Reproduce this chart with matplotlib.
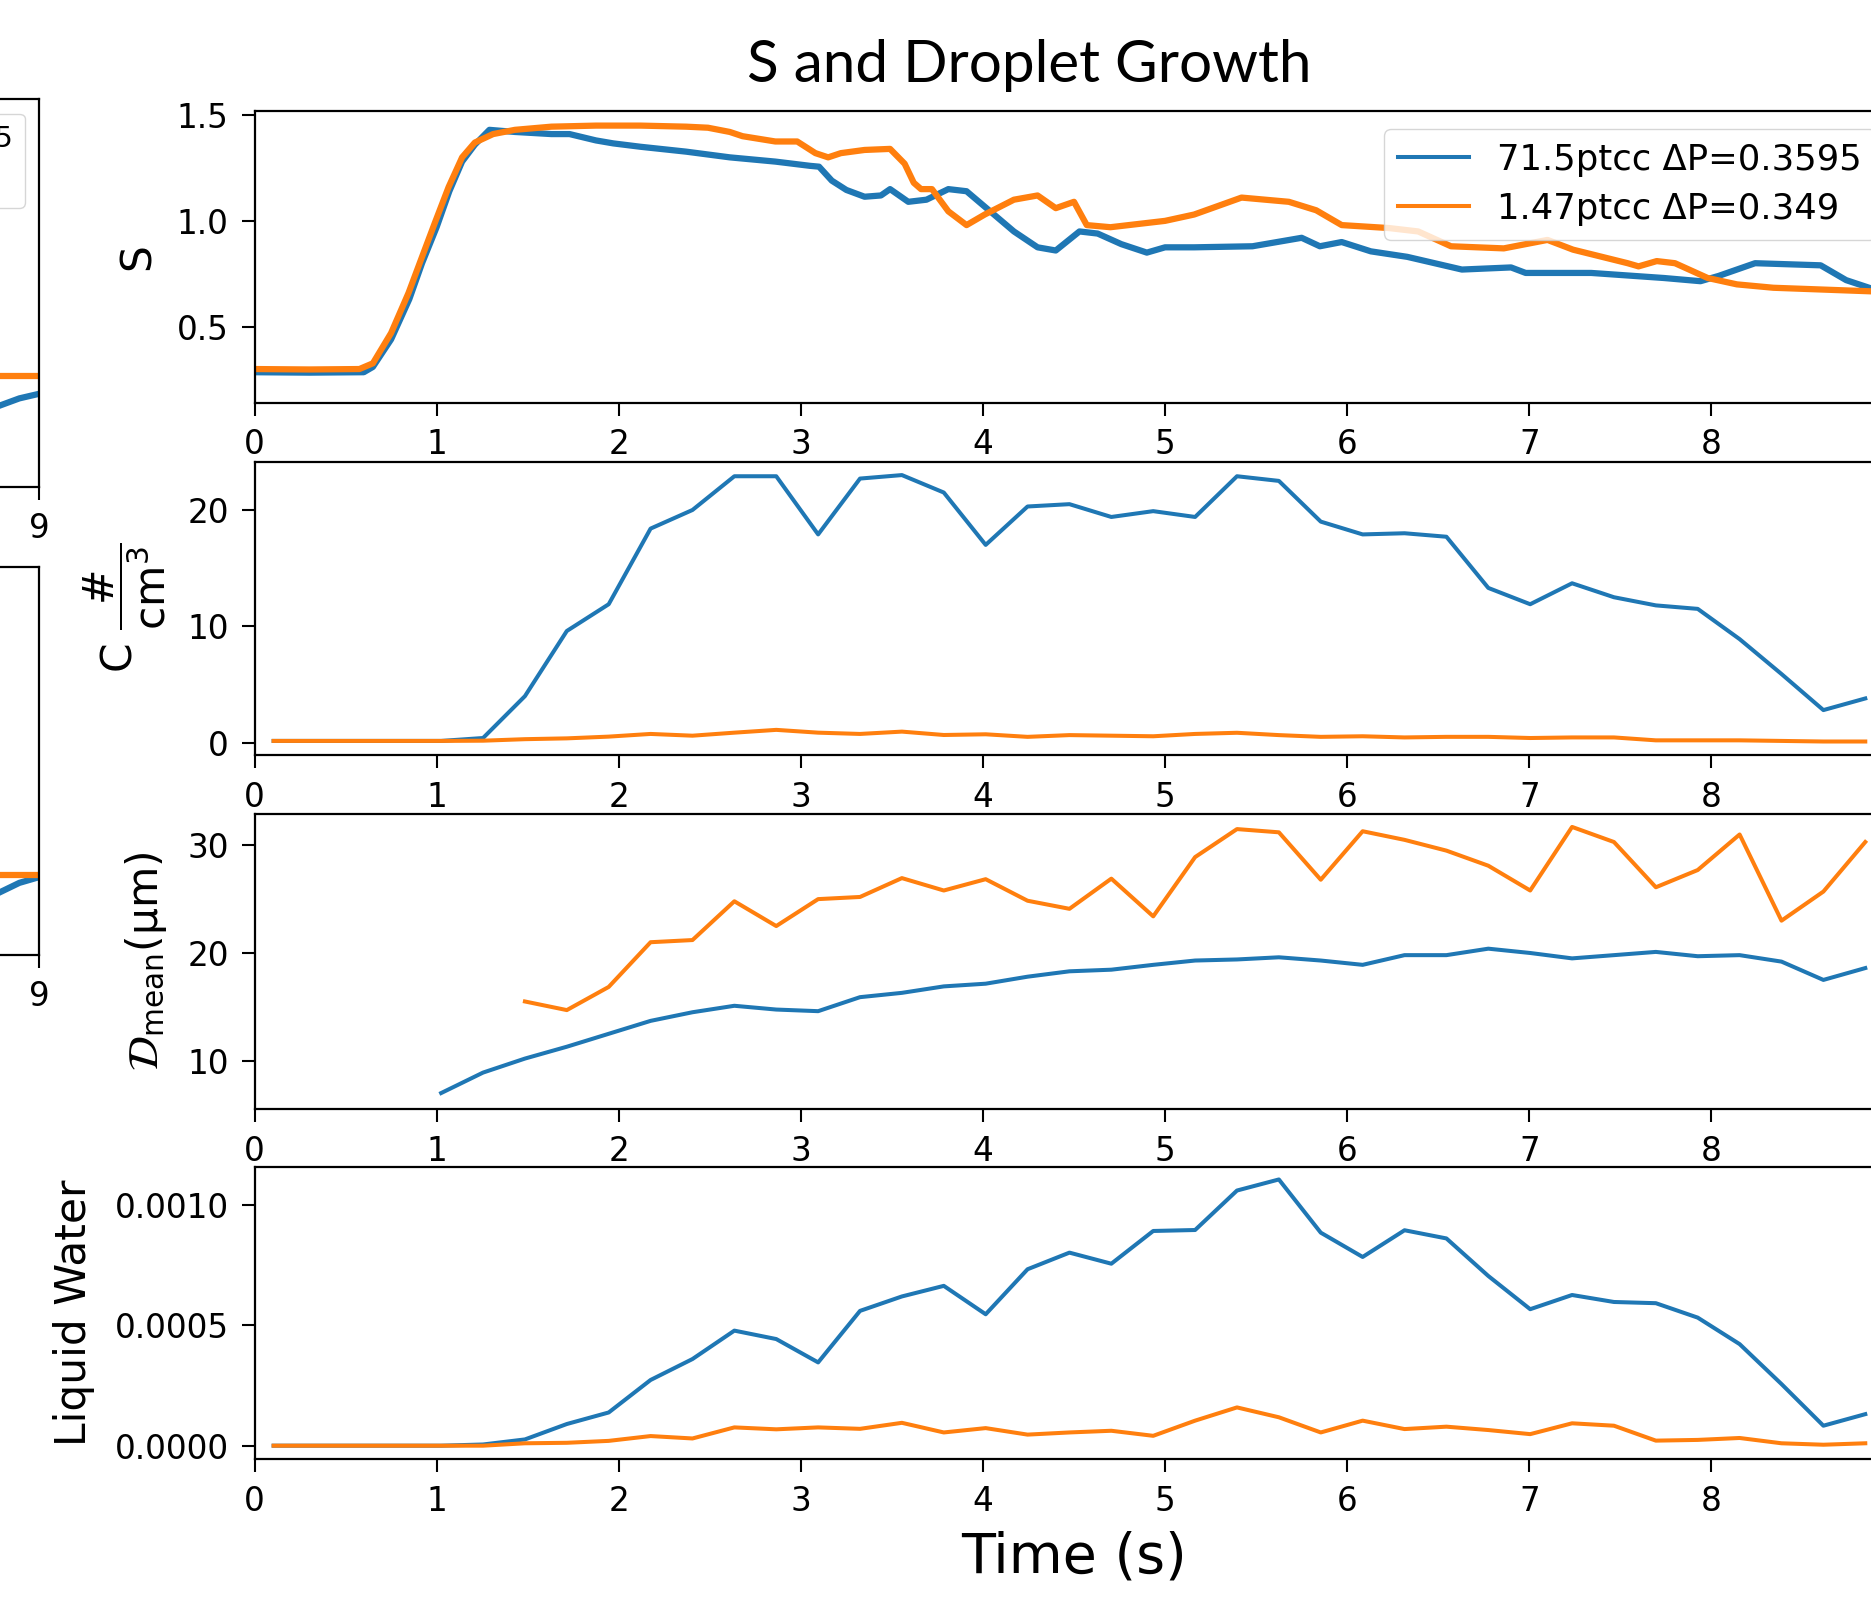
import matplotlib
matplotlib.use("Agg")
import numpy as np
import matplotlib.pyplot as plt

# ---------------- data ----------------
labels = ["71.5ptcc ΔP=0.3595", "1.47ptcc ΔP=0.349"]
title = "S and Droplet Growth"
x_ticks = [0, 1, 2, 3, 4, 5, 6, 7, 8]

# supersaturation traces (time, S)
s_blue_t = [0.0, 0.3, 0.6, 0.65, 0.75, 0.85, 0.92, 1.0, 1.07, 1.14, 1.21, 1.29, 1.43, 1.63, 1.73,
            1.875, 1.97, 2.12, 2.37, 2.61, 2.86, 3.05, 3.1, 3.17, 3.25, 3.35, 3.44, 3.49, 3.59,
            3.69, 3.81, 3.91, 4.04, 4.17, 4.3, 4.4, 4.53, 4.63, 4.76, 4.9, 5.0, 5.16, 5.48, 5.75,
            5.85, 5.97, 6.13, 6.33, 6.63, 6.9, 6.98, 7.34, 7.74, 7.94, 8.04, 8.24, 8.6, 8.74, 8.88]
s_blue = [0.285, 0.283, 0.285, 0.31, 0.44, 0.63, 0.80, 0.97, 1.14, 1.28, 1.36, 1.43, 1.42, 1.41, 1.41,
          1.38, 1.366, 1.35, 1.327, 1.30, 1.28, 1.26, 1.256, 1.19, 1.146, 1.114, 1.12, 1.15, 1.09,
          1.10, 1.15, 1.14, 1.045, 0.95, 0.875, 0.86, 0.95, 0.94, 0.89, 0.85, 0.875, 0.875, 0.88, 0.92,
          0.88, 0.90, 0.856, 0.83, 0.77, 0.78, 0.754, 0.754, 0.73, 0.715, 0.74, 0.80, 0.79, 0.72, 0.68]
s_orange_t = [0.0, 0.3, 0.576, 0.65, 0.75, 0.846, 0.92, 0.99, 1.066, 1.14, 1.21, 1.31, 1.43, 1.63,
              1.875, 2.12, 2.37, 2.49, 2.61, 2.68, 2.86, 2.98, 3.08, 3.15, 3.22, 3.35, 3.49, 3.57,
              3.62, 3.66, 3.72, 3.81, 3.91, 4.01, 4.17, 4.3, 4.4, 4.5, 4.57, 4.7, 5.0, 5.16, 5.42,
              5.68, 5.83, 5.97, 6.23, 6.39, 6.57, 6.86, 7.1, 7.24, 7.54, 7.6, 7.7, 7.8, 7.98, 8.14,
              8.34, 8.88]
s_orange = [0.30, 0.298, 0.30, 0.327, 0.47, 0.66, 0.83, 0.99, 1.16, 1.30, 1.37, 1.41, 1.43, 1.445,
            1.45, 1.45, 1.445, 1.44, 1.42, 1.40, 1.375, 1.375, 1.32, 1.30, 1.32, 1.335, 1.34, 1.27,
            1.18, 1.15, 1.15, 1.045, 0.98, 1.03, 1.10, 1.12, 1.06, 1.09, 0.98, 0.97, 1.0, 1.03, 1.11,
            1.09, 1.05, 0.98, 0.966, 0.95, 0.88, 0.87, 0.91, 0.864, 0.80, 0.785, 0.81, 0.80, 0.73, 0.70,
            0.684, 0.667]

# binned quantities
t_bins = [0.105, 0.335, 0.565, 0.795, 1.025, 1.255, 1.485, 1.715, 1.945, 2.175, 2.405, 2.635,
          2.865, 3.095, 3.325, 3.555, 3.785, 4.015, 4.245, 4.475, 4.705, 4.935, 5.165, 5.395,
          5.625, 5.855, 6.085, 6.315, 6.545, 6.775, 7.005, 7.235, 7.465, 7.695, 7.925, 8.155,
          8.385, 8.615, 8.845]

c_blue = [0.15, 0.15, 0.15, 0.15, 0.15, 0.4, 4.0, 9.6, 11.9, 18.4, 20.0, 22.9, 22.9, 17.9, 22.7,
          23.0, 21.5, 17.0, 20.3, 20.5, 19.4, 19.9, 19.4, 22.9, 22.5, 19.0, 17.9, 18.0, 17.7, 13.3,
          11.9, 13.7, 12.5, 11.8, 11.5, 8.9, 5.9, 2.8, 3.8]
c_orange = [0.15, 0.15, 0.15, 0.15, 0.15, 0.17, 0.3, 0.37, 0.52, 0.75, 0.6, 0.86, 1.1, 0.86, 0.75,
            0.95, 0.66, 0.72, 0.5, 0.65, 0.6, 0.55, 0.75, 0.85, 0.65, 0.5, 0.55, 0.45, 0.5, 0.5,
            0.4, 0.45, 0.45, 0.2, 0.2, 0.2, 0.15, 0.1, 0.1]

nan = float("nan")
d_blue = [nan, nan, nan, nan, 7.0, 8.9, 10.2, 11.3, 12.5, 13.7, 14.5, 15.1, 14.75, 14.6, 15.9,
          16.3, 16.9, 17.15, 17.8, 18.3, 18.45, 18.9, 19.3, 19.4, 19.6, 19.3, 18.9, 19.8, 19.8,
          20.4, 20.0, 19.5, 19.8, 20.1, 19.7, 19.8, 19.2, 17.5, 18.6]
d_orange = [nan, nan, nan, nan, nan, nan, 15.5, 14.7, 16.85, 21.0, 21.2, 24.8, 22.5, 25.0, 25.2,
            26.95, 25.8, 26.85, 24.85, 24.1, 26.9, 23.4, 28.9, 31.5, 31.2, 26.8, 31.3, 30.5, 29.5,
            28.1, 25.8, 31.7, 30.3, 26.1, 27.7, 31.0, 23.0, 25.7, 30.3]

lw_blue = [0, 0, 0, 0, 0, 0.000005, 0.000026, 0.00009, 0.000138, 0.000273, 0.00036, 0.000478,
           0.000443, 0.000346, 0.00056, 0.00062, 0.000664, 0.000546, 0.000733, 0.000802, 0.000756,
           0.000892, 0.000896, 0.00106, 0.001106, 0.000885, 0.000784, 0.000895, 0.000861,
           0.000705, 0.000567, 0.000626, 0.000597, 0.000592, 0.000532, 0.000422, 0.000256,
           0.000083, 0.000131]
lw_orange = [0, 0, 0, 0, 0, 0, 0.00001, 0.000012, 0.00002, 0.00004, 0.00003, 0.000076, 0.000068,
             0.000076, 0.00007, 0.000095, 0.000055, 0.000073, 0.000046, 0.000055, 0.000062,
             0.000041, 0.000104, 0.000159, 0.000118, 0.000055, 0.000104, 0.000069, 0.000079,
             0.000065, 0.000048, 0.000093, 0.000083, 0.000021, 0.000024, 0.000032, 0.00001,
             0.000004, 0.00001]

# fragments of the neighbouring (cropped) panels on the left
left_t = [8.78, 8.89, 9.0]
left_a_blue = [0.209, 0.228, 0.240]
left_a_orange = [0.286, 0.286, 0.286]
left_b_blue = [0.160, 0.185, 0.200]
left_b_orange = [0.206, 0.206, 0.206]

# ---------------- style ----------------
BLUE = "#1f77b4"
ORANGE = "#ff7f0e"
TICK_FS = 23.5
YLAB_FS = 30.5
plt.rcParams["font.family"] = ["DejaVu Sans"]
plt.rcParams["mathtext.fontset"] = "dejavusans"

W, H = 1871, 1598
fig = plt.figure(figsize=(W / 100, H / 100), dpi=100)


def px_axes(left, top, right, bottom):
    return fig.add_axes([left / W, 1 - bottom / H, (right - left) / W, (bottom - top) / H])


def style(ax):
    for sp in ax.spines.values():
        sp.set_linewidth(1.6)
    ax.tick_params(axis="both", labelsize=TICK_FS, length=9.5, width=1.5, pad=9)


L, R = 254.5, 1893.5
ax1 = px_axes(L, 111.0, R, 402.7)
ax2 = px_axes(L, 461.7, R, 755.0)
ax3 = px_axes(L, 814.0, R, 1109.0)
ax4 = px_axes(L, 1166.7, R, 1459.0)

LINE = 2.9
SLINE = 4.5
ax1.plot(s_blue_t, s_blue, color=BLUE, lw=SLINE, label=labels[0])
ax1.plot(s_orange_t, s_orange, color=ORANGE, lw=SLINE, label=labels[1])
ax1.set_ylim(0.141, 1.519)
ax1.set_yticks([0.5, 1.0, 1.5])
ax1.set_ylabel("S", fontsize=YLAB_FS, labelpad=13)
leg = ax1.legend(loc="upper right", fontsize=25.5, handlelength=2.0, labelspacing=0.42)
for h in leg.legend_handles:
    h.set_linewidth(2.9)

ax2.plot(t_bins, c_blue, color=BLUE, lw=LINE)
ax2.plot(t_bins, c_orange, color=ORANGE, lw=LINE)
ax2.set_ylim(-1.06, 24.15)
ax2.set_yticks([0, 10, 20])
ax2.set_ylabel(r"C $\dfrac{\#}{\mathrm{cm}^3}$", fontsize=YLAB_FS, labelpad=14)

ax3.plot(t_bins, d_blue, color=BLUE, lw=LINE)
ax3.plot(t_bins, d_orange, color=ORANGE, lw=LINE)
ax3.set_ylim(5.52, 32.9)
ax3.set_yticks([10, 20, 30])
ax3.set_ylabel(r"$\mathcal{D}_{\mathrm{mean}}$(μm)", fontsize=YLAB_FS, labelpad=13)

ax4.plot(t_bins, lw_blue, color=BLUE, lw=LINE)
ax4.plot(t_bins, lw_orange, color=ORANGE, lw=LINE)
ax4.set_ylim(-0.0000553, 0.001159)
ax4.set_yticks([0.0, 0.0005, 0.0010])
ax4.set_yticklabels(["0.0000", "0.0005", "0.0010"])
ax4.set_ylabel("Liquid Water", fontsize=YLAB_FS, labelpad=14)

for ax in (ax1, ax2, ax3, ax4):
    ax.set_xlim(0, 9)
    ax.set_xticks(x_ticks)
    style(ax)

fig.text(1074 / W, 1 - 1557 / H, "Time (s)", fontsize=40, ha="center", va="center")
fig.text(1029 / W, 1 - 66 / H, title, fontsize=42, ha="center", va="center",
         family=["Lato", "DejaVu Sans"])

# cropped neighbour panels
axa = px_axes(39.4 - 1640, 99.0, 39.4, 486.8)
axb = px_axes(39.4 - 1640, 566.8, 39.4, 954.6)
axa.plot(left_t, left_a_blue, color=BLUE, lw=SLINE, label=labels[0])
axa.plot(left_t, left_a_orange, color=ORANGE, lw=SLINE, label=labels[1])
axb.plot(left_t, left_b_blue, color=BLUE, lw=SLINE)
axb.plot(left_t, left_b_orange, color=ORANGE, lw=SLINE)
for ax in (axa, axb):
    ax.set_xlim(0, 9)
    ax.set_ylim(0, 1)
    ax.set_xticks([9])
    ax.set_yticks([])
    style(ax)
axa.legend(loc="upper right", fontsize=21)

fig.savefig("out.png", dpi=100)
